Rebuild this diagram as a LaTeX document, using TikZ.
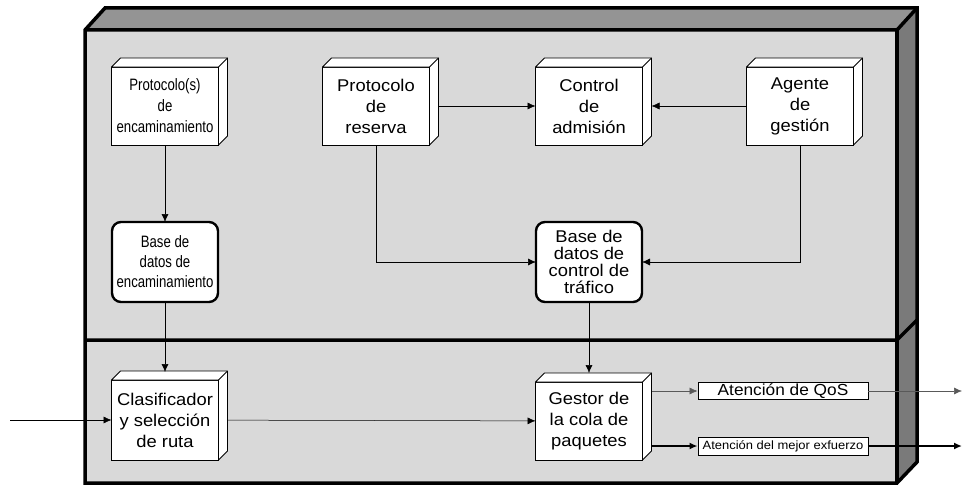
\documentclass[tikz,border=0pt]{standalone}
\usepackage{fontspec}
\setmainfont{Liberation Sans}[FakeStretch=1.08]
\newfontfamily\narrowfont{Liberation Sans}[FakeStretch=0.8]
\usetikzlibrary{arrows.meta}

\begin{document}
\begin{tikzpicture}[x=1pt,y=-1pt,>={Latex[length=8pt,width=7pt]},
  every node/.style={align=center},
  cube/.style={draw,line width=0.9pt,fill=white,outer sep=0pt,inner sep=2pt,
    minimum width=107pt,minimum height=78pt,font=\fontsize{17}{21}\selectfont},
  store/.style={draw,line width=2.4pt,rounded corners=9pt,fill=white,outer sep=0pt,
    inner sep=2pt,minimum width=106pt,minimum height=80pt},
  lane/.style={draw,line width=0.9pt,fill=white,inner sep=0pt,minimum width=170pt},
  link/.style={->,line width=0.5pt},
  frame/.style={line width=3.5pt,line join=miter}]
  \useasboundingbox (0,0) rectangle (965,487);

  % casing
  \fill[gray!30] (85,30) rectangle (897,483);
  \fill[black!42] (85,30) -- (105,8) -- (917,8) -- (897,30) -- cycle;
  \fill[black!52] (897,30) -- (917,8) -- (917,462) -- (897,483) -- cycle;
  \draw[frame] (85,483) -- (85,30) -- (105,8) -- (917,8) -- (917,462) -- (897,483) -- cycle;
  \draw[frame] (85,30) -- (897,30) -- (917,8);
  \draw[frame] (897,30) -- (897,483);
  \draw[frame] (85,340) -- (897,340) -- (917,320);

  % blocks
  \node[cube,font=\narrowfont\fontsize{16.5}{21}\selectfont] (prot) at (165,106) {Protocolo(s)\\de\\encaminamiento};
  \node[cube] (resv) at (376,106) {Protocolo\\de\\reserva};
  \node[cube] (ctrl) at (589,106) {Control\\de\\admisión};
  \node[cube] (agent) at (800,106) {Agente\\de\\gestión};
  \node[store,font=\narrowfont\fontsize{16.5}{20}\selectfont] (bdenc) at (165,262) {Base de\\datos de\\encaminamiento};
  \node[store,font=\fontsize{17}{17}\selectfont] (bdct) at (589,262) {Base de\\datos de\\control de\\tráfico};
  \node[cube,minimum height=80pt] (clas) at (165,420) {Clasificador\\y selección\\de ruta};
  \node[cube] (gestor) at (589,421) {Gestor de\\la cola de\\paquetes};
  \node[lane,minimum height=17pt,font=\fontsize{16}{16}\selectfont] (qos) at (783,391) {Atención de QoS};
  \node[lane,minimum height=18pt,font=\fontsize{12}{14}\selectfont] (best) at (783,446) {Atención del mejor exfuerzo};
  \coordinate (in) at (10,420);
  \coordinate (outqos) at (962,391);
  \coordinate (outbest) at (962,446);

  % depth of the blocks
  \foreach \n in {prot,resv,ctrl,agent,clas,gestor}{
    \draw[line width=0.9pt,fill=white,line join=round] (\n.north west) -- ++(9,-9)
      -- ([shift={(9,-9)}]\n.north east) -- ([shift={(9,-9)}]\n.south east)
      -- (\n.south east) -- (\n.north east) -- cycle;
    \draw[line width=0.9pt] (\n.north east) -- ++(9,-9);
  }

  % connectors
  \draw[link] (prot) -- (bdenc);
  \draw[link,shorten >=8pt] (bdenc) -- (clas);
  \draw[link] (in) -- (clas);
  \draw[link,shorten <=9pt] (clas) -- (gestor);
  \draw[link,shorten <=9pt] (resv) -- (ctrl);
  \draw[link,shorten >=9pt] (agent) -- (ctrl);
  \draw[link] (resv.south) |- (bdct.west);
  \draw[link] (agent.south) |- (bdct.east);
  \draw[link,shorten >=9pt] (bdct) -- (gestor);
  \draw[link,gray!70!black,shorten <=9pt] (gestor.east |- qos) -- (qos);
  \draw[link,gray!70!black] (qos) -- (outqos);
  \draw[link,line width=1.6pt,shorten <=9pt] (gestor.east |- best) -- (best);
  \draw[link,line width=1.6pt] (best) -- (outbest);
\end{tikzpicture}
\end{document}
